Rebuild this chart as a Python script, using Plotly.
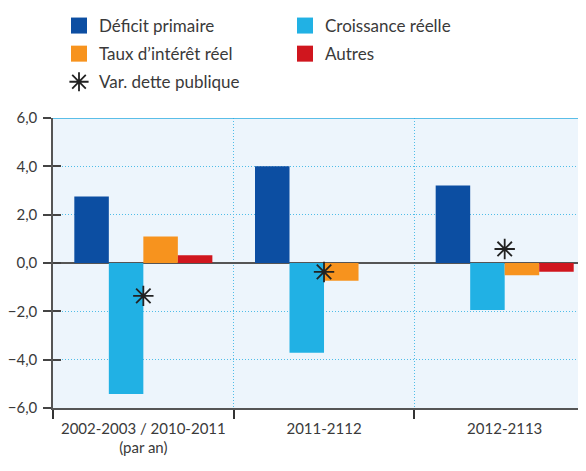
import plotly.graph_objects as go

periods = ["2002-2003 / 2010-2011<br>(par an)", "2011-2112", "2012-2113"]
deficit_primaire = [2.75, 4.0, 3.21]
croissance_reelle = [-5.42, -3.71, -1.94]
taux_interet_reel = [1.10, -0.73, -0.51]
autres = [0.32, 0.0, -0.36]
var_dette = [-1.36, -0.37, 0.58]

colors = {
    "Déficit primaire": "#0c4ea2",
    "Croissance réelle": "#21b1e4",
    "Taux d’intérêt réel": "#f7931e",
    "Autres": "#d0161e",
}
series = {
    "Déficit primaire": deficit_primaire,
    "Croissance réelle": croissance_reelle,
    "Taux d’intérêt réel": taux_interet_reel,
    "Autres": autres,
}
# which legend column each entry goes in
legend_of = {
    "Déficit primaire": "legend",
    "Croissance réelle": "legend2",
    "Taux d’intérêt réel": "legend",
    "Autres": "legend2",
}

FONT = "Lato"
TEXT = "#3a3a3a"
GRID = "#4fbde8"
STAR = "#222222"

# the page body has an 8px margin, so the figure is drawn 8px in and 8px down
W, H = 578, 463

fig = go.Figure()

for name, vals in series.items():
    fig.add_trace(go.Bar(x=periods, y=vals, name=name, marker_color=colors[name],
                         marker_line_width=0, showlegend=False))

fig.add_trace(go.Scatter(
    x=periods, y=var_dette, mode="markers", name="Var. dette publique",
    marker=dict(symbol="asterisk-open", size=17, color=STAR, line=dict(color=STAR, width=1.8)),
    showlegend=False,
))

# legend entries (square swatches)
for name in series:
    fig.add_trace(go.Scatter(
        x=[None], y=[None], mode="markers", name=name,
        marker=dict(symbol="square", size=16, color=colors[name]),
        legend=legend_of[name], legendgroup=name,
    ))
fig.add_trace(go.Scatter(
    x=[None], y=[None], mode="markers", name="Var. dette publique",
    marker=dict(symbol="asterisk-open", size=16, color=STAR, line=dict(color=STAR, width=1.8)),
    legend="legend", legendgroup="var",
))

# invisible trace so the inner tick axis gets drawn
fig.add_trace(go.Scatter(x=[None], y=[None], yaxis="y2", showlegend=False))

legend_style = dict(
    xref="container", yref="container", xanchor="left", yanchor="top",
    orientation="v", traceorder="grouped", tracegroupgap=3,
    font=dict(family=FONT, size=17, color=TEXT), bgcolor="rgba(0,0,0,0)",
    itemclick=False,
)

fig.update_layout(
    width=W, height=H,
    margin=dict(l=45, r=0, t=110, b=63, autoexpand=False),
    paper_bgcolor="white",
    plot_bgcolor="#edf5fc",
    barmode="group",
    bargap=0.236,
    bargroupgap=0,
    separators=", ",
    font=dict(family=FONT, color=TEXT),
    legend=dict(x=51 / W, y=1.0, **legend_style),
    legend2=dict(x=277 / W, y=1.0, **legend_style),
    xaxis=dict(
        type="category", range=[-0.5, 2.45], tickangle=0, automargin=False,
        tickson="boundaries", ticks="outside", ticklen=9, tickwidth=1.5, tickcolor="#333",
        ticklabelstandoff=6,
        showgrid=True, gridcolor=GRID, griddash="1px,2px", gridwidth=1.2,
        showline=True, linecolor="#555", linewidth=1.5,
        tickfont=dict(family=FONT, size=15, color=TEXT),
    ),
    yaxis=dict(
        range=[-6, 6], dtick=2, tickformat=".1f", automargin=False,
        ticks="outside", ticklen=8, tickwidth=1.5, tickcolor="#444",
        ticklabelstandoff=3,
        showgrid=True, gridcolor=GRID, griddash="1px,2px", gridwidth=1.2,
        zeroline=True, zerolinecolor="#555", zerolinewidth=1.5,
        showline=True, linecolor="#555", linewidth=1.5,
        tickfont=dict(family=FONT, size=15, color=TEXT),
    ),
    yaxis2=dict(
        overlaying="y", range=[-6, 6], dtick=2, side="left", automargin=False,
        ticks="inside", ticklen=8, tickwidth=1.5, tickcolor="#444",
        showticklabels=False, showgrid=False, zeroline=False, showline=False,
    ),
    shapes=[dict(type="line", xref="paper", yref="y", x0=0, x1=1, y0=6, y1=6,
                 line=dict(color="#29abe2", width=1.5))],
)

fig.write_html("out.html")
